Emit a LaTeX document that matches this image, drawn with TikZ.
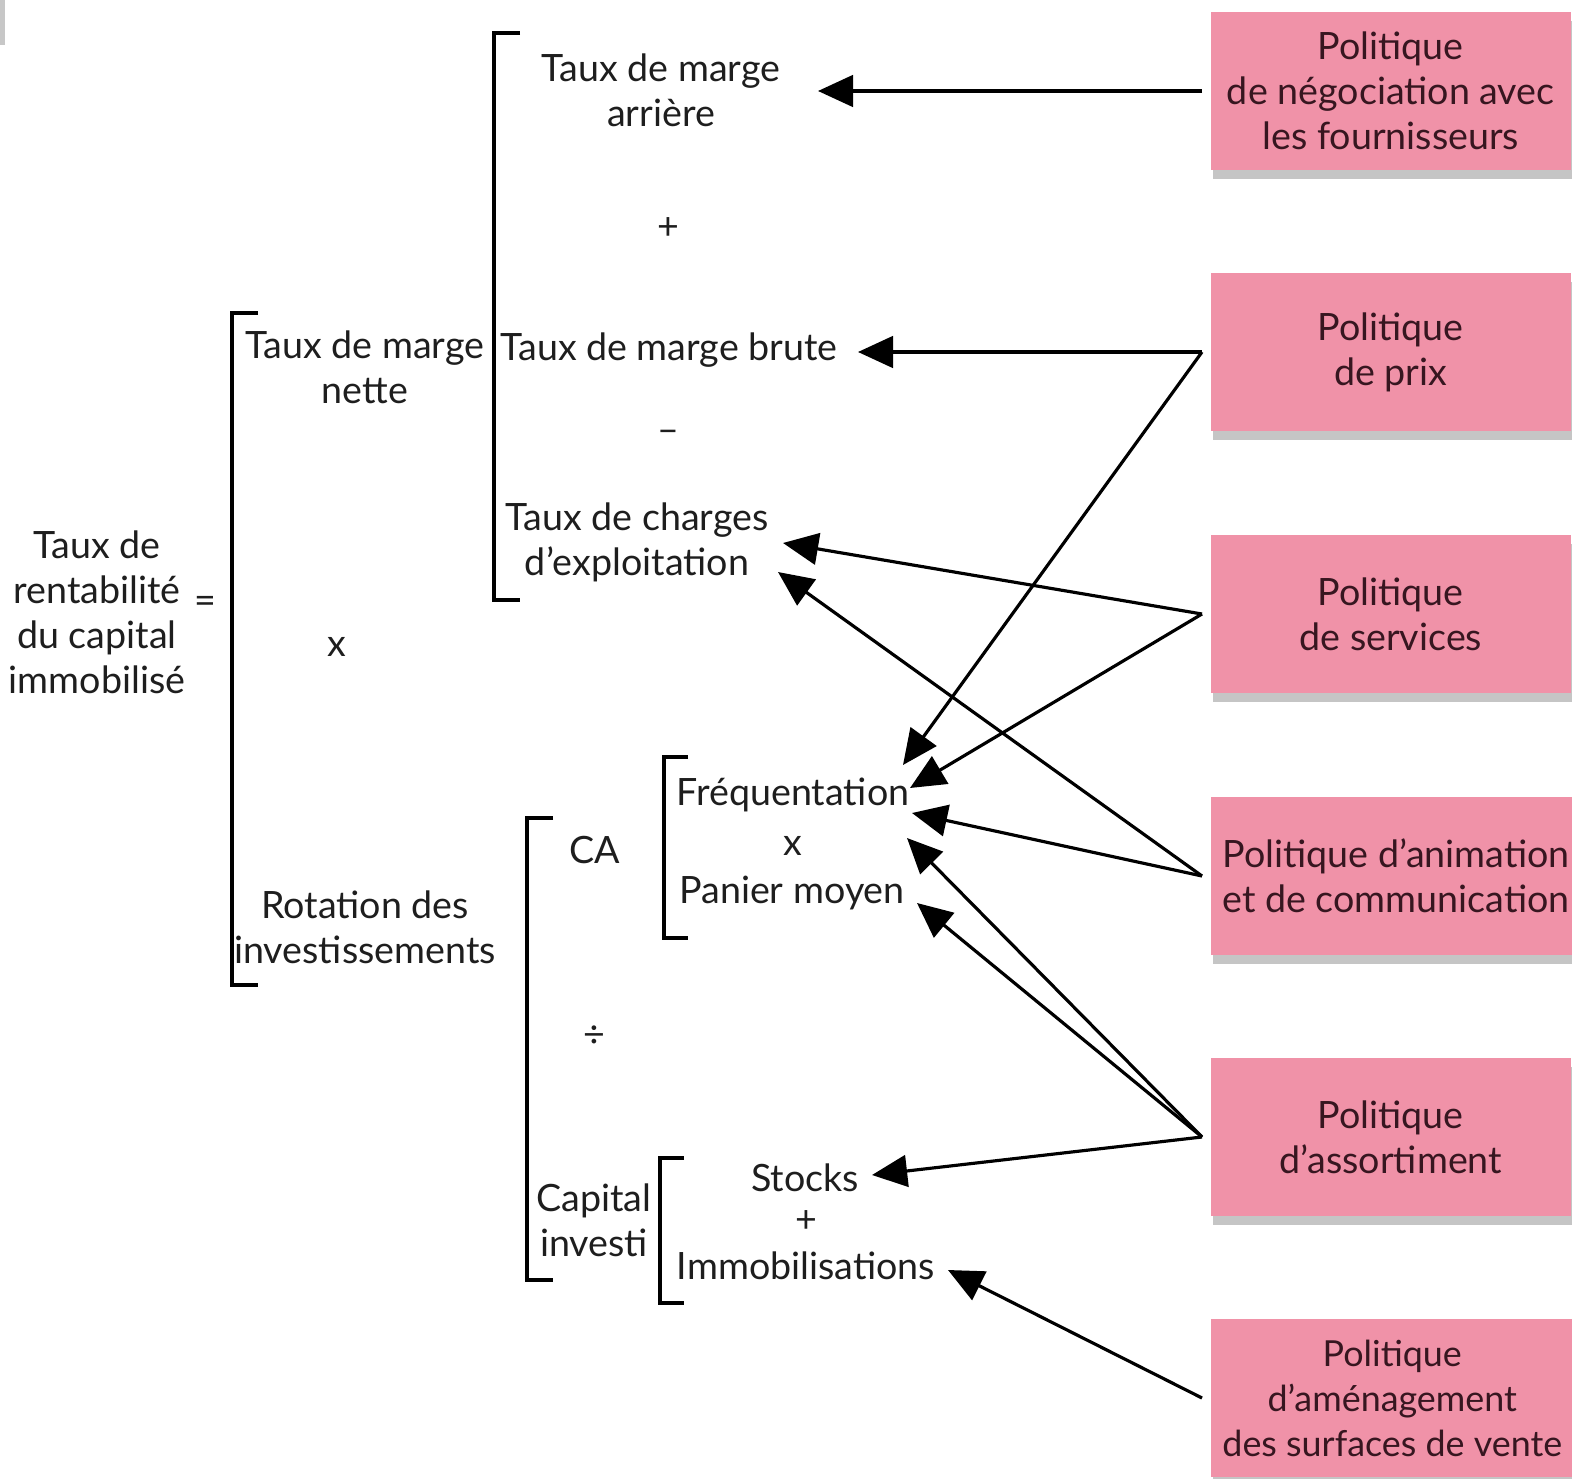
\documentclass[tikz,border=0pt]{standalone}
\usepackage{fontspec}
\setmainfont{Lato}
\usetikzlibrary{arrows.meta,shadows,calc}

\definecolor{polpink}{RGB}{240,146,168}
\definecolor{poltext}{RGB}{55,22,32}
\definecolor{termtext}{RGB}{30,30,30}

\tikzset{
  every node/.style={font=\fontsize{10.7}{12.8}\selectfont},
  politique/.style={fill=polpink, draw=none, anchor=west, align=center, text=poltext,
    minimum width=3.6cm, minimum height=1.58cm,
    drop shadow={shadow xshift=0.02cm, shadow yshift=-0.09cm, fill=black!45, opacity=0.5}},
  terme/.style={align=center, inner sep=0pt, text=termtext},
  lien/.style={line width=0.9pt, -{Triangle[length=10pt,width=9pt]}},
  crochet/.style={line width=1pt},
}

\begin{document}
\begin{tikzpicture}[x=0.01cm, y=-0.01cm]
\useasboundingbox (0,0) rectangle (1572,1479);
\fill[black!22] (0,0) rectangle (5,45);

% brackets
\draw[crochet] (258,313) -- (232,313) -- (232,985) -- (258,985);
\draw[crochet] (520,33) -- (494,33) -- (494,600) -- (520,600);
\draw[crochet] (553,818) -- (527,818) -- (527,1280) -- (553,1280);
\draw[crochet] (688,757) -- (664,757) -- (664,938) -- (688,938);
\draw[crochet] (684,1158) -- (660,1158) -- (660,1303) -- (684,1303);

% left side
\node[terme] (trci) at (97,612) {Taux de\\rentabilité\\du capital\\immobilisé};
\node[terme] (egal) at (205,605) {=};
\node[terme] (tmn) at (365,367) {Taux de marge\\nette};
\node[terme] (fois1) at (337,647) {x};
\node[terme] (rot) at (365,927) {Rotation des\\investissements};

% upper part
\node[terme] (tma) at (661,90) {Taux de marge\\arrière};
\node[terme] (plus1) at (668,229) {+};
\node[terme] (tmb) at (669,350) {Taux de marge brute};
\node[terme] (moins) at (668,436) {--};
\node[terme] (tce) at (637,542) {Taux de charges\\d’exploitation};

% lower part
\node[terme] (ca) at (595,850) {CA};
\node[terme] (freq) at (793,795) {Fréquentation};
\node[terme] (fois2) at (793,846) {x};
\node[terme] (panier) at (792,893) {Panier moyen};
\node[terme] (div) at (594,1037) {÷};
\node[terme] (capinv) at (594,1220) {Capital\\investi};
\node[terme] (stocks) at (805,1178) {Stocks};
\node[terme] (plus2) at (806,1222) {+};
\node[terme] (immo) at (806,1266) {Immobilisations};

% policies
\node[politique] (nego) at (1210,91) {Politique\\de négociation avec\\les fournisseurs};
\node[politique] (prix) at (1210,352) {Politique\\de prix};
\node[politique] (serv) at (1210,614) {Politique\\de services};
\node[politique] (anim) at (1210,876) {Politique d’animation\\et de communication};
\node[politique] (assort) at (1210,1137) {Politique\\d’assortiment};
\node[politique, font=\fontsize{10.2}{12.8}\selectfont] (amen) at (1210,1398) {Politique\\d’aménagement\\des surfaces de vente};

% arrow tips
\coordinate (tip-tma) at (818,91);
\coordinate (tip-tmb) at (858,352);
\coordinate (tip-tce1) at (783,543);
\coordinate (tip-tce2) at (778,572);
\coordinate (tip-freq1) at (903,765);
\coordinate (tip-freq2) at (910,788);
\coordinate (tip-freq3) at (912,813);
\coordinate (tip-freq4) at (907,838);
\coordinate (tip-panier) at (917,903);
\coordinate (tip-stocks) at (872,1175);
\coordinate (tip-immo) at (948,1270);

% connectors
\draw[lien] ($(nego.west)+(-8,0)$) -- (tip-tma);
\draw[lien] ($(prix.west)+(-8,0)$) -- (tip-tmb);
\draw[lien] ($(prix.west)+(-8,0)$) -- (tip-freq1);
\draw[lien] ($(serv.west)+(-8,0)$) -- (tip-tce1);
\draw[lien] ($(serv.west)+(-8,0)$) -- (tip-freq2);
\draw[lien] ($(anim.west)+(-8,0)$) -- (tip-tce2);
\draw[lien] ($(anim.west)+(-8,0)$) -- (tip-freq3);
\draw[lien] ($(assort.west)+(-8,0)$) -- (tip-freq4);
\draw[lien] ($(assort.west)+(-8,0)$) -- (tip-panier);
\draw[lien] ($(assort.west)+(-8,0)$) -- (tip-stocks);
\draw[lien] ($(amen.west)+(-8,0)$) -- (tip-immo);
\end{tikzpicture}
\end{document}
